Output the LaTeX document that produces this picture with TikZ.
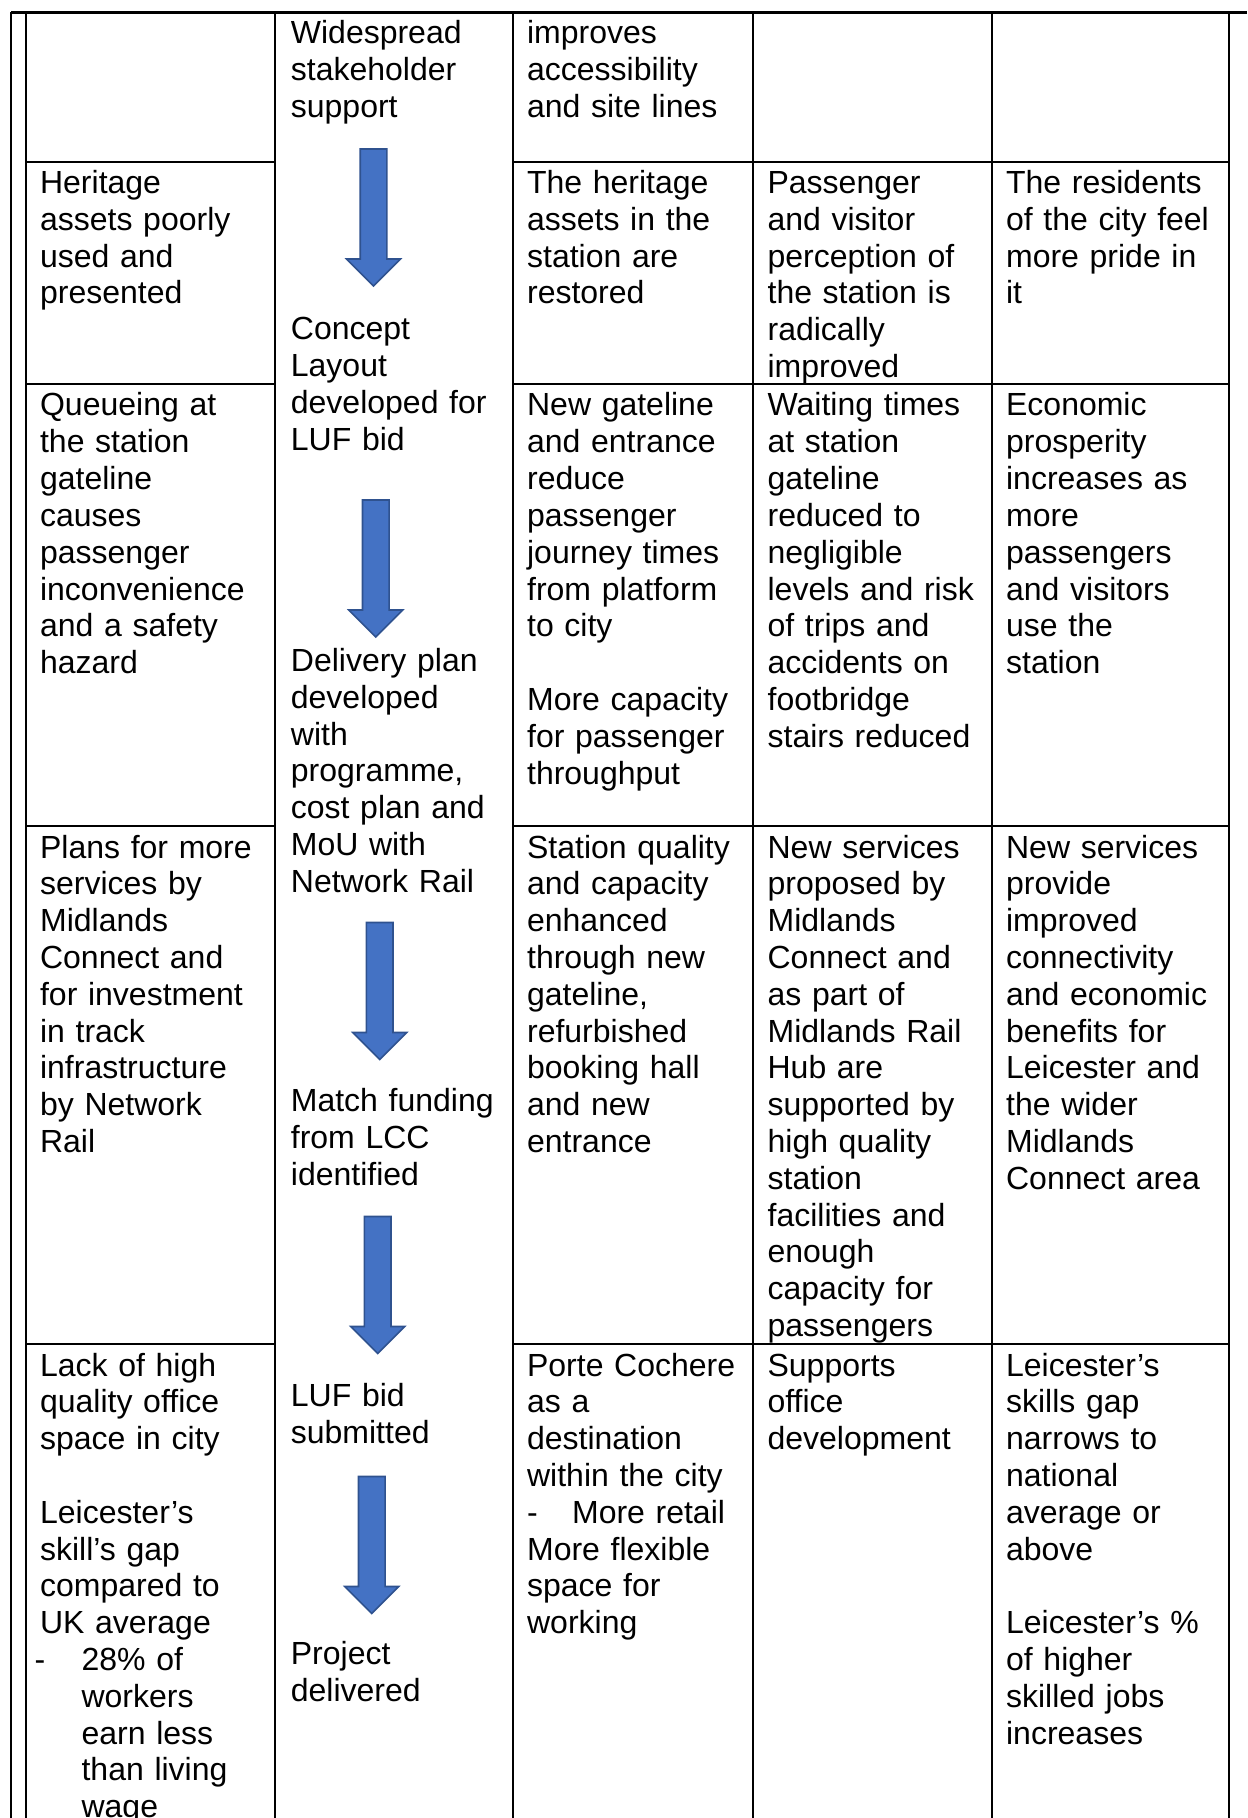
\documentclass[tikz,border=0pt]{standalone}
\usepackage{fontspec}
\setmainfont{Liberation Sans}
\newcommand\cellfont{\fontsize{16pt}{18.4pt}\selectfont}
\definecolor{arrowfill}{HTML}{4472C4}
\definecolor{arrowedge}{HTML}{2F528F}

\begin{document}
\begin{tikzpicture}[x=0.5pt,y=-0.5pt,
  rule/.style={line width=1.25pt, black},
  cell/.style={anchor=base west, inner sep=0pt, text width=118pt, align=left, font=\cellfont},
  blockarrow/.pic={
    \filldraw[fill=arrowfill, draw=arrowedge, line width=0.8pt, line join=miter]
      (-13.3,0) -- (13.3,0) -- (13.3,110) -- (27,110) -- (0,137) -- (-27,110) -- (-13.3,110) -- cycle;
  }]
\useasboundingbox (0,0) rectangle (1247,1818);

% table rules
\draw[rule] (11,12.5) -- (1247,12.5);
\foreach \x in {11,26,275,513,753,992,1229}
  \draw[rule] (\x,12.5) -- (\x,1820);
\foreach \y in {162,384,826,1344} {
  \draw[rule] (26,\y) -- (275,\y);
  \draw[rule] (513,\y) -- (1229,\y);
}

% middle column: process steps
\node[cell] (s1) at (290.5,43.5) {Widespread\\stakeholder\\support};
\node[cell] (s2) at (290.5,340) {Concept\\Layout\\developed for\\LUF bid};
\node[cell] (s3) at (290.5,671.5) {Delivery plan\\developed\\with\\programme,\\cost plan and\\MoU with\\Network Rail};
\node[cell] (s4) at (290.5,1111.5) {Match funding\\from LCC\\identified};
\node[cell] (s5) at (290.5,1406.5) {LUF bid\\submitted};
\node[cell] (s6) at (290.5,1664.5) {Project\\delivered};

\pic at (373.5,149) {blockarrow};
\pic at (375.8,500) {blockarrow};
\pic at (379.7,922.5) {blockarrow};
\pic at (377.7,1216.5) {blockarrow};
\pic at (371.8,1476.5) {blockarrow};

% row 1
\node[cell] (r1c3) at (526.7,43.5) {improves\\accessibility\\and site lines};

% row 2
\node[cell] (r2c1) at (39.7,193.5) {Heritage\\assets poorly\\used and\\presented};
\node[cell] (r2c3) at (526.7,193.5) {The heritage\\assets in the\\station are\\restored};
\node[cell] (r2c4) at (767.2,193.5) {Passenger\\and visitor\\perception of\\the station is\\radically\\improved};
\node[cell] (r2c5) at (1005.7,193.5) {The residents\\of the city feel\\more pride in\\it};

% row 3
\node[cell] (r3c1) at (39.7,416) {Queueing at\\the station\\gateline\\causes\\passenger\\inconvenience\\and a safety\\hazard};
\node[cell] (r3c3) at (526.7,416) {New gateline\\and entrance\\reduce\\passenger\\journey times\\from platform\\to city\\\mbox{}\\More capacity\\for passenger\\throughput};
\node[cell] (r3c4) at (767.2,416) {Waiting times\\at station\\gateline\\reduced to\\negligible\\levels and risk\\of trips and\\accidents on\\footbridge\\stairs reduced};
\node[cell] (r3c5) at (1005.7,416) {Economic\\prosperity\\increases as\\more\\passengers\\and visitors\\use the\\station};

% row 4
\node[cell] (r4c1) at (39.7,858) {Plans for more\\services by\\Midlands\\Connect and\\for investment\\in track\\infrastructure\\by Network\\Rail};
\node[cell] (r4c3) at (526.7,858) {Station quality\\and capacity\\enhanced\\through new\\gateline,\\refurbished\\booking hall\\and new\\entrance};
\node[cell] (r4c4) at (767.2,858) {New services\\proposed by\\Midlands\\Connect and\\as part of\\Midlands Rail\\Hub are\\supported by\\high quality\\station\\facilities and\\enough\\capacity for\\passengers};
\node[cell] (r4c5) at (1005.7,858) {New services\\provide\\improved\\connectivity\\and economic\\benefits for\\Leicester and\\the wider\\Midlands\\Connect area};

% row 5
\node[cell] (r5c1) at (39.7,1376) {Lack of high\\quality office\\space in city\\\mbox{}\\Leicester’s\\skill’s gap\\compared to\\UK average\\\hspace*{-2.75pt}\makebox[23.5pt][l]{-}28\% of\\\hspace*{20.75pt}workers\\\hspace*{20.75pt}earn less\\\hspace*{20.75pt}than living\\\hspace*{20.75pt}wage};
\node[cell] (r5c3) at (526.7,1376) {Porte Cochere\\as a\\destination\\within the city\\\makebox[22.5pt][l]{-}More retail\\More flexible\\space for\\working};
\node[cell] (r5c4) at (767.2,1376) {Supports\\office\\development};
\node[cell] (r5c5) at (1005.7,1376) {Leicester’s\\skills gap\\narrows to\\national\\average or\\above\\\mbox{}\\Leicester’s \%\\of higher\\skilled jobs\\increases};
\end{tikzpicture}
\end{document}
